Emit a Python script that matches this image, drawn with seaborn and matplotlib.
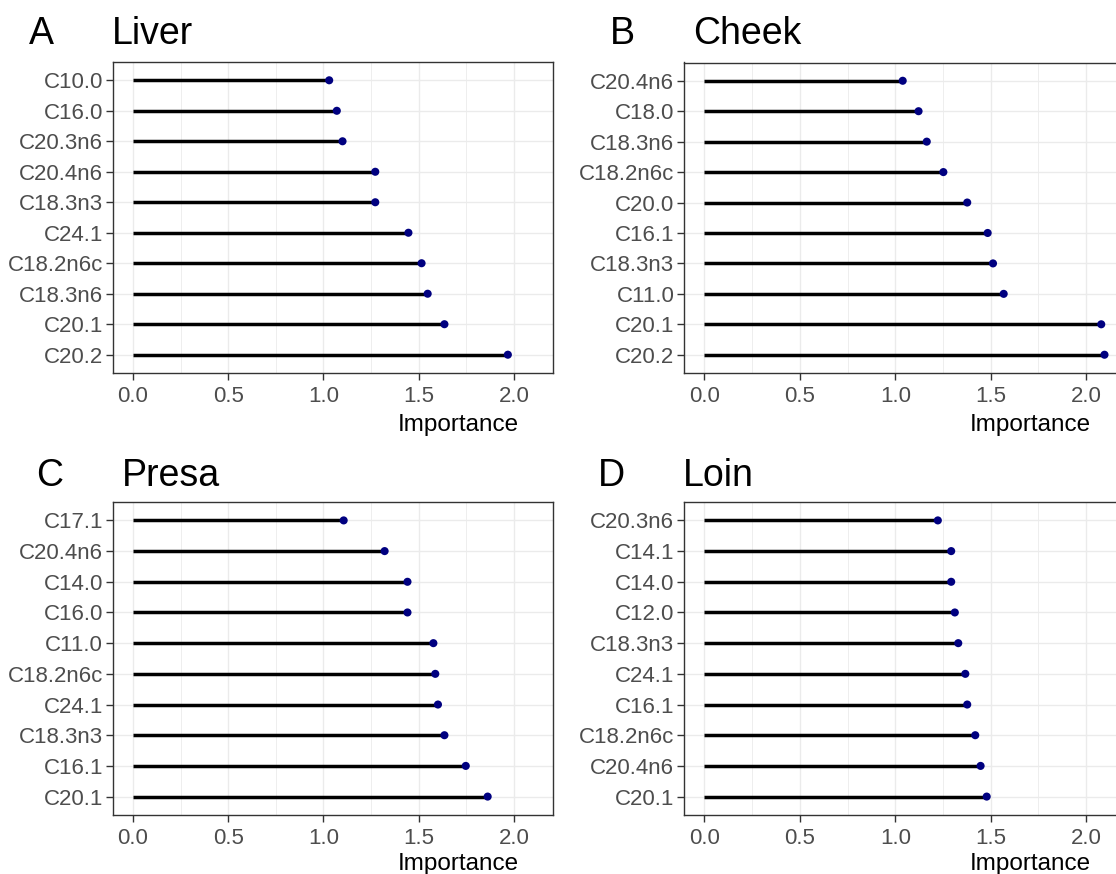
import matplotlib
matplotlib.use("Agg")
import matplotlib.pyplot as plt
import seaborn as sns
import pandas as pd
from matplotlib.ticker import FixedLocator, FormatStrFormatter

# ---------------- data ----------------
liver_cats = ["C10.0", "C16.0", "C20.3n6", "C20.4n6", "C18.3n3",
              "C24.1", "C18.2n6c", "C18.3n6", "C20.1", "C20.2"]
liver_vals = [1.03, 1.07, 1.10, 1.272, 1.272, 1.446, 1.515, 1.547, 1.635, 1.968]

cheek_cats = ["C20.4n6", "C18.0", "C18.3n6", "C18.2n6c", "C20.0",
              "C16.1", "C18.3n3", "C11.0", "C20.1", "C20.2"]
cheek_vals = [1.039, 1.122, 1.165, 1.252, 1.377, 1.484, 1.512, 1.568, 2.079, 2.096]

presa_cats = ["C17.1", "C20.4n6", "C14.0", "C16.0", "C11.0",
              "C18.2n6c", "C24.1", "C18.3n3", "C16.1", "C20.1"]
presa_vals = [1.106, 1.321, 1.441, 1.441, 1.577, 1.587, 1.601, 1.635, 1.747, 1.862]

loin_cats = ["C20.3n6", "C14.1", "C14.0", "C12.0", "C18.3n3",
             "C24.1", "C16.1", "C18.2n6c", "C20.4n6", "C20.1"]
loin_vals = [1.223, 1.293, 1.293, 1.312, 1.330, 1.367, 1.377, 1.419, 1.447, 1.479]

tags = ["A", "B", "C", "D"]
titles = ["Liver", "Cheek", "Presa", "Loin"]
x_ticks = [0.0, 0.5, 1.0, 1.5, 2.0]
x_minor = [0.25, 0.75, 1.25, 1.75]
x_label = "Importance"

# ---------------- style ----------------
sns.set_theme(style="white")
plt.rcParams["font.family"] = ["Liberation Sans", "DejaVu Sans"]

W, H = 1116, 874
fig = plt.figure(figsize=(W / 100, H / 100), dpi=100)
fig.patch.set_facecolor("white")

GRID = "#EBEBEB"
BORDER = "#333333"
TICKTXT = "#4D4D4D"
POINT = "#000080"

# panel layouts in pixels: (left, right, top, bottom)
rects = [(113, 553, 62, 373), (684.3, 1125.3, 62.5, 373),
         (113, 553, 502, 815), (684.3, 1125.3, 502, 815)]
tag_pos = [(29, 43.5), (610, 43.5), (36.4, 486.5), (598, 486.5)]
title_pos = [(111.5, 43.5), (693, 43.5), (121.5, 486.5), (683.3, 486.5)]
label_off = [40.5, 40.5, 38.3, 38.3]

datasets = [(liver_cats, liver_vals), (cheek_cats, cheek_vals),
            (presa_cats, presa_vals), (loin_cats, loin_vals)]

for i, (cats, vals) in enumerate(datasets):
    l, r, t, b = rects[i]
    ax = fig.add_axes([l / W, 1 - b / H, (r - l) / W, (b - t) / H])
    df = pd.DataFrame({"feature": cats, "importance": vals})

    # grid
    ax.set_axisbelow(True)
    ax.xaxis.set_major_locator(FixedLocator(x_ticks))
    ax.xaxis.set_minor_locator(FixedLocator(x_minor))
    ax.xaxis.set_major_formatter(FormatStrFormatter("%.1f"))

    sns.scatterplot(data=df, x="importance", y="feature", ax=ax,
                    color=POINT, s=34, edgecolor="none", zorder=4, legend=False)
    ax.hlines(y=df["feature"], xmin=0, xmax=df["importance"],
              color="black", linewidth=2.5, zorder=3, capstyle="butt")

    ax.set_xlim(-0.105, 2.205)
    n = len(cats)
    ax.set_ylim(n - 1 + 0.6, -0.6)

    ax.grid(True, which="major", axis="both", color=GRID, linewidth=1.0, zorder=0)
    ax.grid(True, which="minor", axis="x", color=GRID, linewidth=0.6, zorder=0)

    for sp in ax.spines.values():
        sp.set_visible(True)
        sp.set_color(BORDER)
        sp.set_linewidth(1.0)

    ax.tick_params(axis="both", which="major", length=5, width=1.0,
                   color=BORDER, labelcolor=TICKTXT, labelsize=16,
                   bottom=True, left=True)
    ax.tick_params(axis="x", which="major", pad=4.5)
    ax.tick_params(axis="y", which="major", pad=2.2)
    ax.tick_params(axis="x", which="minor", length=0)

    ax.set_ylabel("")
    ax.set_xlabel(x_label, fontsize=17.5, color="black", ha="center", va="top")
    ax.xaxis.set_label_coords(0.785, -label_off[i] / (b - t))

    fig.text(tag_pos[i][0] / W, 1 - tag_pos[i][1] / H, tags[i],
             fontsize=27, ha="left", va="baseline", color="black")
    fig.text(title_pos[i][0] / W, 1 - title_pos[i][1] / H, titles[i],
             fontsize=27, ha="left", va="baseline", color="black")

fig.savefig("out.png", dpi=100, facecolor="white")
